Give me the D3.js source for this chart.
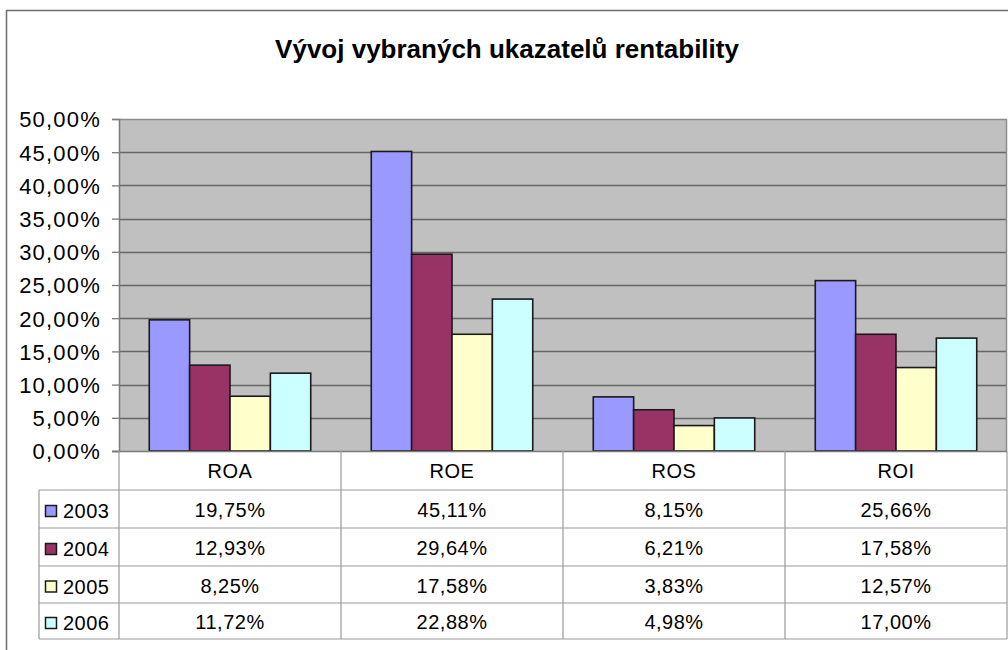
<!DOCTYPE html>
<html><head><meta charset="utf-8">
<script src="https://cdn.jsdelivr.net/npm/d3@7"></script>
<style>
html,body{margin:0;padding:0;background:#fff;}
svg{display:block;font-family:"Liberation Sans",Arial,Helvetica,sans-serif;}
</style></head>
<body><svg id="c" width="1008" height="650"></svg>
<script>
const title = "Vývoj vybraných ukazatelů rentability";
const categories = ["ROA", "ROE", "ROS", "ROI"];
const years = ["2003", "2004", "2005", "2006"];
const v2003 = [19.75, 45.11, 8.15, 25.66];
const v2004 = [12.93, 29.64, 6.21, 17.58];
const v2005 = [8.25, 17.58, 3.83, 12.57];
const v2006 = [11.72, 22.88, 4.98, 17.00];
const seriesValues = [v2003, v2004, v2005, v2006];
const colors = ["#9999FF", "#993366", "#FFFFCC", "#CCFFFF"];
const yTicks = [0, 5, 10, 15, 20, 25, 30, 35, 40, 45, 50];

const cz = d3.formatLocale({decimal: ",", thousands: " ", grouping: [3], currency: ["", " Kč"]});
const fmt = v => cz.format(".2f")(v) + "%";

const svg = d3.select("#c");
const L = 119, R = 1007, T = 119, B = 451;
const rowH = [451, 490, 528, 566, 603, 639];
const legendX = 39;

// outer border
svg.append("rect").attr("x", 6.5).attr("y", 10.5).attr("width", 1010).attr("height", 660)
  .attr("fill", "#fff").attr("stroke", "#6e6e6e").attr("stroke-width", 1.5);

// title
svg.append("text").attr("x", 507).attr("y", 58).attr("text-anchor", "middle")
  .attr("font-size", 26).attr("font-weight", "bold").attr("fill", "#000").text(title);

const x = d3.scaleBand().domain(categories).range([L, R]).padding(0);
const xs = d3.scaleBand().domain(years).range([0, x.bandwidth()]).paddingInner(0).paddingOuter(0.75);
const y = d3.scaleLinear().domain([0, 50]).range([B, T]);

// plot background
svg.append("rect").attr("x", L).attr("y", T).attr("width", R - L).attr("height", B - T).attr("fill", "#C0C0C0");

// gridlines
svg.append("g").selectAll("line").data(yTicks.filter(t => t > 0 && t < 50)).join("line")
  .attr("x1", L).attr("x2", R).attr("y1", d => Math.round(y(d)) + 0.5).attr("y2", d => Math.round(y(d)) + 0.5)
  .attr("stroke", "#666").attr("stroke-width", 1.3);
// top / right border of plot
svg.append("line").attr("x1", L).attr("x2", R).attr("y1", T + 0.5).attr("y2", T + 0.5).attr("stroke", "#8c8c8c").attr("stroke-width", 1.5);
svg.append("line").attr("x1", R - 0.5).attr("x2", R - 0.5).attr("y1", T).attr("y2", B).attr("stroke", "#8c8c8c").attr("stroke-width", 1.5);

// bars
const data = [];
categories.forEach((c, i) => years.forEach((yr, j) => data.push({c, yr, v: seriesValues[j][i], col: colors[j]})));
svg.append("g").selectAll("rect").data(data).join("rect")
  .attr("x", d => x(d.c) + xs(d.yr)).attr("width", xs.bandwidth())
  .attr("y", d => y(d.v)).attr("height", d => B - y(d.v))
  .attr("fill", d => d.col).attr("stroke", "#1a1a1a").attr("stroke-width", 1.6);

// y axis
const yAxis = d3.axisLeft(y).tickValues(yTicks).tickSize(7).tickPadding(11)
  .tickFormat(d => fmt(d));
const ga = svg.append("g").attr("transform", `translate(${L},0)`).call(yAxis);
ga.select(".domain").attr("stroke", "#7a7a7a").attr("stroke-width", 1.5);
ga.selectAll(".tick line").attr("stroke", "#7a7a7a").attr("stroke-width", 1.3);
ga.selectAll(".tick text").attr("font-size", 22).attr("fill", "#000").attr("font-family", "Liberation Sans, Arial, sans-serif")
  .attr("letter-spacing", 1.2).attr("dy", "0.36em");

// x-axis line
svg.append("line").attr("x1", 112).attr("x2", R).attr("y1", B + 0.5).attr("y2", B + 0.5).attr("stroke", "#7a7a7a").attr("stroke-width", 1.3);

// data table
const tg = svg.append("g");
const lineCol = "#9a9a9a";
const vx = categories.map(c => x(c)).concat([R]);
tg.selectAll("line.v").data(vx).join("line").attr("class", "v")
  .attr("x1", d => d).attr("x2", d => d).attr("y1", B).attr("y2", rowH[5])
  .attr("stroke", lineCol).attr("stroke-width", 1.2);
tg.append("line").attr("x1", legendX).attr("x2", legendX).attr("y1", rowH[1]).attr("y2", rowH[5]).attr("stroke", lineCol).attr("stroke-width", 1.2);
tg.selectAll("line.h").data(rowH.slice(1)).join("line").attr("class", "h")
  .attr("x1", legendX).attr("x2", R).attr("y1", d => d).attr("y2", d => d)
  .attr("stroke", lineCol).attr("stroke-width", 1.2);

tg.selectAll("text.hd").data(categories).join("text").attr("class", "hd")
  .attr("x", d => x(d) + x.bandwidth() / 2).attr("y", (rowH[0] + rowH[1]) / 2 + 7)
  .attr("text-anchor", "middle").attr("font-size", 20).attr("letter-spacing", 0.5).text(d => d);

years.forEach((yr, j) => {
  const yc = (rowH[j + 1] + rowH[j + 2]) / 2;
  tg.append("rect").attr("x", 45.5).attr("y", yc - 3.5).attr("width", 11).attr("height", 11)
    .attr("fill", colors[j]).attr("stroke", "#1a1a1a").attr("stroke-width", 1.5);
  tg.append("text").attr("x", 63).attr("y", yc + 9).attr("font-size", 20).attr("letter-spacing", 0.5).text(yr);
  tg.selectAll("text.r" + j).data(categories).join("text").attr("class", "r" + j)
    .attr("x", c => x(c) + x.bandwidth() / 2).attr("y", yc + 8)
    .attr("text-anchor", "middle").attr("font-size", 20).attr("letter-spacing", 0.5)
    .text((c, i) => fmt(seriesValues[j][i]));
});
</script></body></html>
